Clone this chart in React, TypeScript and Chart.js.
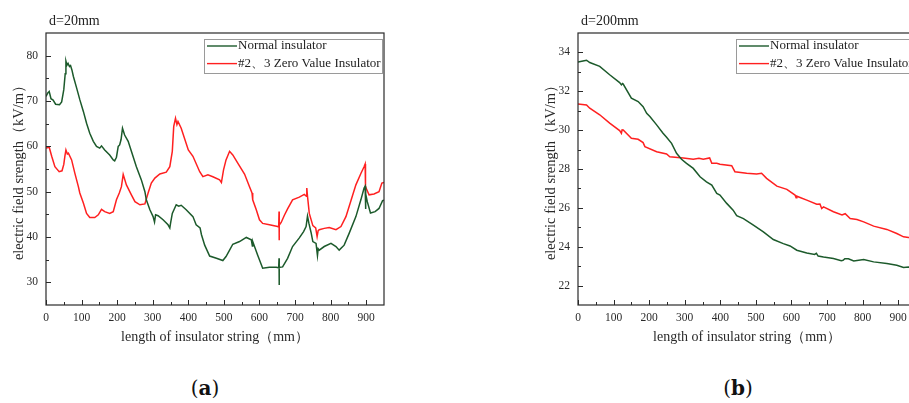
import React, { useEffect, useRef } from "react";
import { Chart, registerables } from "chart.js";

Chart.register(...registerables);

// ---------- data ----------
const seriesLabels = ["Normal insulator", "#2、3 Zero Value Insulator"];
const panelTitles = ["d=20mm", "d=200mm"];
const panelTags = ["a", "b"];
const xAxisTitle = "length of insulator string（mm）";
const yAxisTitle = "electric field srength（kV/m）";

const xTicks = [0, 100, 200, 300, 400, 500, 600, 700, 800, 900];
const xMinorTicks = [50, 150, 250, 350, 450, 550, 650, 750, 850];

const yTicksA = [30, 40, 50, 60, 70, 80];
const yMinorTicksA = [35, 45, 55, 65, 75];
const yTicksB = [22, 24, 26, 28, 30, 32, 34];
const yMinorTicksB = [23, 25, 27, 29, 31, 33];

// panel (a) d=20mm, normal insulator
const distA_normal = [0, 5, 9, 14, 20, 27, 38, 44, 50, 54, 56, 59, 62, 66, 69, 73, 77, 86, 95, 105, 114, 123, 133, 142, 151, 156, 165, 179, 189, 193, 198, 203, 207, 211, 215, 221, 231, 240, 254, 268, 278, 282, 292, 301, 305, 308, 315, 329, 343, 348, 350, 355, 366, 373, 380, 394, 413, 422, 433, 437, 446, 460, 479, 497, 506, 516, 525, 544, 563, 577, 580, 581, 595, 609, 628, 647, 654, 655, 655, 656, 665, 679, 693, 712, 724, 731, 735, 739, 745, 750, 759, 763, 765, 768, 782, 801, 815, 824, 838, 852, 871, 885, 894, 897, 898, 899, 903, 912, 925, 936, 946, 950];
const fieldA_normal = [71.0, 71.8, 72.1, 70.5, 70.2, 69.3, 69.2, 69.8, 72.5, 76.0, 78.8, 77.9, 78.3, 77.6, 77.8, 76.8, 75.4, 72.9, 70.3, 67.7, 65.1, 62.9, 61.1, 60.0, 59.6, 60.1, 59.2, 58.1, 57.0, 56.8, 57.6, 60.0, 60.3, 61.5, 64.0, 62.5, 61.1, 58.9, 55.5, 52.6, 50.0, 48.2, 46.0, 44.5, 43.3, 44.9, 44.7, 43.8, 42.7, 42.0, 43.0, 45.2, 47.1, 46.8, 47.0, 46.0, 44.5, 42.7, 42.0, 40.5, 38.2, 35.8, 35.3, 34.8, 35.7, 37.1, 38.4, 39.0, 39.9, 39.4, 38.0, 39.0, 36.0, 33.1, 33.3, 33.3, 33.2, 35.3, 29.4, 33.3, 33.4, 35.3, 37.9, 39.8, 41.2, 42.3, 44.6, 43.0, 41.0, 39.0, 38.6, 35.9, 37.4, 37.1, 37.9, 38.6, 37.9, 37.1, 38.2, 40.8, 44.5, 48.2, 50.8, 51.2, 46.2, 49.5, 47.8, 45.3, 45.6, 46.3, 48.0, 48.1];

// panel (a) d=20mm, #2、3 zero value insulator
const distA_zero = [0, 9, 16, 25, 37, 45, 50, 53, 56, 60, 63, 72, 81, 91, 95, 105, 114, 123, 137, 147, 156, 165, 179, 189, 198, 206, 212, 217, 226, 240, 250, 264, 278, 287, 296, 306, 320, 338, 348, 355, 359, 364, 368, 371, 380, 400, 413, 432, 441, 455, 469, 488, 493, 499, 506, 516, 525, 539, 558, 572, 579, 581, 591, 600, 609, 628, 651, 654, 655, 655, 656, 661, 670, 679, 693, 712, 726, 732, 733, 735, 740, 750, 758, 762, 765, 768, 782, 796, 815, 829, 843, 857, 871, 885, 894, 897, 898, 908, 922, 936, 944, 950];
const fieldA_zero = [59.6, 59.8, 57.8, 55.5, 54.4, 54.6, 56.0, 57.8, 59.2, 58.3, 58.5, 57.0, 54.1, 51.1, 49.7, 47.5, 45.2, 44.3, 44.3, 44.9, 46.1, 45.6, 45.2, 45.6, 48.2, 49.7, 51.1, 53.8, 51.5, 49.3, 47.8, 47.1, 47.3, 49.7, 51.9, 53.0, 53.9, 54.3, 55.5, 58.9, 64.4, 66.2, 64.8, 65.5, 64.0, 59.2, 57.8, 54.4, 53.3, 53.7, 53.3, 52.6, 52.0, 54.8, 57.0, 58.9, 58.1, 56.3, 53.9, 51.1, 49.7, 48.2, 46.0, 43.8, 43.0, 42.7, 42.3, 42.2, 45.6, 39.3, 42.6, 43.2, 44.8, 46.2, 48.2, 48.8, 49.4, 49.0, 50.8, 49.0, 45.2, 42.5, 42.0, 40.1, 41.4, 41.6, 41.9, 42.1, 41.6, 42.3, 44.5, 48.0, 51.5, 54.0, 55.5, 56.1, 51.1, 49.3, 49.5, 50.0, 51.9, 52.0];

// panel (b) d=200mm, normal insulator
const distB_normal = [0, 14, 24, 33, 61, 89, 117, 122, 125, 127, 150, 169, 183, 193, 202, 221, 239, 249, 263, 277, 291, 305, 324, 343, 361, 376, 390, 399, 418, 436, 446, 465, 493, 521, 549, 577, 596, 615, 643, 665, 670, 675, 690, 718, 740, 745, 750, 760, 775, 803, 831, 868, 896, 915, 929, 950];
const fieldB_normal = [33.50, 33.56, 33.60, 33.48, 33.28, 32.85, 32.45, 32.33, 32.40, 32.37, 31.65, 31.47, 31.21, 30.87, 30.70, 30.27, 29.84, 29.63, 29.32, 28.81, 28.50, 28.29, 28.03, 27.60, 27.34, 27.17, 26.74, 26.66, 26.23, 25.88, 25.60, 25.45, 25.11, 24.76, 24.37, 24.16, 24.04, 23.82, 23.68, 23.60, 23.66, 23.52, 23.47, 23.39, 23.28, 23.30, 23.38, 23.38, 23.27, 23.34, 23.22, 23.13, 23.05, 22.93, 22.96, 22.90];

// panel (b) d=200mm, #2、3 zero value insulator
const distB_zero = [0, 24, 33, 61, 89, 117, 122, 124, 127, 150, 169, 183, 188, 221, 249, 258, 296, 324, 340, 352, 370, 376, 390, 399, 432, 441, 474, 502, 516, 530, 559, 587, 610, 613, 615, 643, 671, 680, 685, 690, 718, 742, 751, 765, 784, 803, 831, 868, 896, 915, 929, 950];
const fieldB_zero = [31.35, 31.30, 31.13, 30.79, 30.36, 29.98, 29.84, 30.02, 30.01, 29.58, 29.53, 29.36, 29.15, 28.89, 28.77, 28.63, 28.57, 28.50, 28.55, 28.50, 28.57, 28.29, 28.29, 28.24, 28.17, 27.86, 27.78, 27.74, 27.78, 27.52, 27.12, 26.95, 26.66, 26.52, 26.60, 26.40, 26.19, 26.20, 25.97, 26.05, 25.80, 25.63, 25.70, 25.45, 25.40, 25.28, 25.06, 24.89, 24.68, 24.51, 24.48, 24.40];

// ---------- styling ----------
const FONT = "'Liberation Serif', 'Times New Roman', 'Noto Serif', serif";
const GREEN = "#1c5a2b";
const RED = "#ff2020";
const AXIS = "#2a2a2a";

const toPoints = (xs: number[], ys: number[]) => xs.map((x, i) => ({ x, y: ys[i] }));

const framePlugin = {
  id: "frameTicks",
  afterDraw(chart: any) {
    const { ctx, chartArea } = chart;
    const opts = chart.options.plugins.frameTicks || {};
    const xs = chart.scales.x;
    const ys = chart.scales.y;
    ctx.save();
    ctx.strokeStyle = AXIS;
    ctx.lineWidth = 1.2;
    ctx.strokeRect(chartArea.left, chartArea.top, chartArea.right - chartArea.left, chartArea.bottom - chartArea.top);
    ctx.lineWidth = 1;
    const drawX = (vals: number[], len: number) => {
      vals.forEach((v) => {
        const px = Math.round(xs.getPixelForValue(v)) + 0.5;
        ctx.beginPath();
        ctx.moveTo(px, chartArea.bottom);
        ctx.lineTo(px, chartArea.bottom - len);
        ctx.stroke();
      });
    };
    const drawY = (vals: number[], len: number) => {
      vals.forEach((v) => {
        const py = Math.round(ys.getPixelForValue(v)) + 0.5;
        ctx.beginPath();
        ctx.moveTo(chartArea.left, py);
        ctx.lineTo(chartArea.left + len, py);
        ctx.stroke();
      });
    };
    drawX(opts.xMajor || [], 5);
    drawX(opts.xMinor || [], 3);
    drawY(opts.yMajor || [], 5);
    drawY(opts.yMinor || [], 3);

    // panel title
    ctx.fillStyle = "#222";
    ctx.font = `14px ${FONT}`;
    ctx.textBaseline = "alphabetic";
    ctx.textAlign = "left";
    ctx.fillText(opts.title || "", chartArea.left + 3, 25);

    // legend box
    const boxW = 178;
    const boxH = 34;
    const bx = chartArea.right - 2 - boxW;
    const by = chartArea.top + 6;
    ctx.fillStyle = "#ffffff";
    ctx.fillRect(bx, by, boxW, boxH);
    ctx.strokeStyle = "#9a9a9a";
    ctx.lineWidth = 1;
    ctx.strokeRect(bx + 0.5, by + 0.5, boxW, boxH);
    ctx.font = `13px ${FONT}`;
    ctx.textBaseline = "middle";
    chart.data.datasets.forEach((ds: any, i: number) => {
      const ly = by + 7 + i * 17.6;
      ctx.strokeStyle = ds.borderColor;
      ctx.lineWidth = 1.4;
      ctx.beginPath();
      ctx.moveTo(bx + 3, ly);
      ctx.lineTo(bx + 33, ly);
      ctx.stroke();
      ctx.fillStyle = "#222";
      ctx.fillText(ds.label, bx + 34, ly);
    });
    ctx.restore();
  },
};

type PanelProps = {
  left: number;
  title: string;
  normalX: number[];
  normalY: number[];
  zeroX: number[];
  zeroY: number[];
  yMin: number;
  yMax: number;
  yTicks: number[];
  yMinor: number[];
};

const W = 460;
const H = 360;

function Panel(p: PanelProps) {
  const ref = useRef<HTMLCanvasElement | null>(null);
  useEffect(() => {
    if (!ref.current) return;
    const chart = new Chart(ref.current, {
      type: "line",
      data: {
        datasets: [
          {
            label: seriesLabels[0],
            data: toPoints(p.normalX, p.normalY),
            borderColor: GREEN,
            backgroundColor: GREEN,
            borderWidth: 1.5,
            pointRadius: 0,
            tension: 0,
            fill: false,
          },
          {
            label: seriesLabels[1],
            data: toPoints(p.zeroX, p.zeroY),
            borderColor: RED,
            backgroundColor: RED,
            borderWidth: 1.5,
            pointRadius: 0,
            tension: 0,
            fill: false,
          },
        ],
      },
      options: {
        animation: false,
        responsive: false,
        maintainAspectRatio: false,
        layout: { padding: { left: 0, top: 33, right: W - 384, bottom: 0 } },
        plugins: {
          legend: { display: false },
          tooltip: { enabled: false },
          title: { display: false },
          frameTicks: {
            title: p.title,
            xMajor: xTicks,
            xMinor: xMinorTicks,
            yMajor: p.yTicks,
            yMinor: p.yMinor,
          },
        } as any,
        scales: {
          x: {
            type: "linear",
            min: 0,
            max: 950,
            afterBuildTicks: (s: any) => {
              s.ticks = xTicks.map((v) => ({ value: v }));
            },
            afterFit: (s: any) => {
              s.height = 55;
            },
            grid: { display: false, drawTicks: false },
            border: { display: false },
            ticks: {
              font: { family: FONT, size: 11.5 },
              color: AXIS,
              padding: 6,
              maxRotation: 0,
              autoSkip: false,
            },
            title: {
              display: true,
              text: xAxisTitle,
              font: { family: FONT, size: 14 },
              color: AXIS,
              padding: { top: 0, bottom: 14 },
            },
          },
          y: {
            type: "linear",
            min: p.yMin,
            max: p.yMax,
            afterBuildTicks: (s: any) => {
              s.ticks = p.yTicks.map((v) => ({ value: v }));
            },
            afterFit: (s: any) => {
              s.width = 46;
            },
            grid: { display: false, drawTicks: false },
            border: { display: false },
            ticks: {
              font: { family: FONT, size: 11.5 },
              color: AXIS,
              padding: 8,
              autoSkip: false,
            },
            title: {
              display: true,
              text: yAxisTitle,
              font: { family: FONT, size: 14.5 },
              color: AXIS,
              padding: { top: 10, bottom: 0 },
            },
          },
        },
      },
      plugins: [framePlugin],
    } as any);
    return () => chart.destroy();
  }, []);
  return (
    <canvas
      ref={ref}
      width={W}
      height={H}
      style={{ position: "absolute", left: p.left, top: 0, width: W, height: H }}
    />
  );
}

function Tag({ cx, letter }: { cx: number; letter: string }) {
  return (
    <div
      style={{
        position: "absolute",
        left: cx - 50,
        top: 375,
        width: 100,
        textAlign: "center",
        fontFamily: "'DejaVu Serif', serif",
        fontSize: 20,
        lineHeight: "26px",
        color: "#111",
      }}
    >
      (<b>{letter}</b>)
    </div>
  );
}

export default function App() {
  return (
    <div
      style={{
        position: "absolute",
        left: 0,
        top: 0,
        width: 909,
        height: 403,
        overflow: "hidden",
        background: "#ffffff",
      }}
    >
      <Panel
        left={0}
        title={panelTitles[0]}
        normalX={distA_normal}
        normalY={fieldA_normal}
        zeroX={distA_zero}
        zeroY={fieldA_zero}
        yMin={25}
        yMax={85}
        yTicks={yTicksA}
        yMinor={yMinorTicksA}
      />
      <Panel
        left={532}
        title={panelTitles[1]}
        normalX={distB_normal}
        normalY={fieldB_normal}
        zeroX={distB_zero}
        zeroY={fieldB_zero}
        yMin={21}
        yMax={35}
        yTicks={yTicksB}
        yMinor={yMinorTicksB}
      />
      <Tag cx={205} letter={panelTags[0]} />
      <Tag cx={738} letter={panelTags[1]} />
    </div>
  );
}
